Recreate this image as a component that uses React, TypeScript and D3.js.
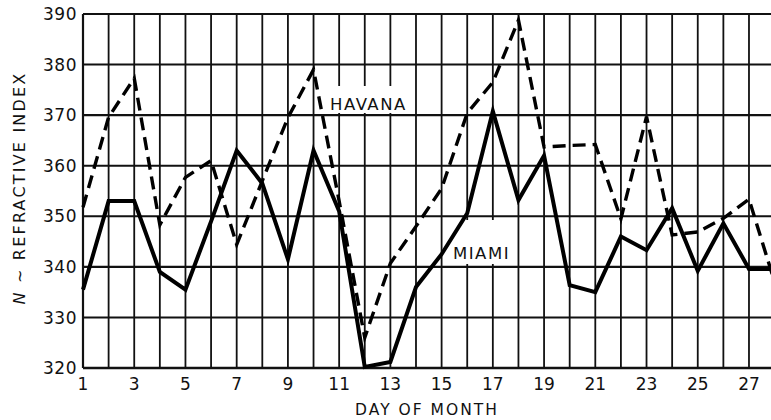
import React from "react";
import * as d3 from "d3";

const days = d3.range(1, 29);
const miami = [335.5, 353, 353, 339, 335.5, 349, 363, 356.5, 341.5, 363, 351, 320.2, 321.2, 336, 342.5, 350.6, 370.8, 353.2, 362, 336.4, 335, 346, 343.3, 351.6, 339.2, 348.6, 339.6, 339.6];
const havana = [351.8, 369.6, 377.3, 348.3, 357.7, 361, 344.4, 357, 369.5, 379, 353, 326, 340.7, 348, 355.5, 370.4, 376.5, 388.8, 363.7, 364, 364.2, 349.5, 369.7, 346.3, 346.9, 349.6, 353.4, 337];
const yTicks = [320, 330, 340, 350, 360, 370, 380, 390];
const xTickLabels = [1, 3, 5, 7, 9, 11, 13, 15, 17, 19, 21, 23, 25, 27];

const W = 771;
const H = 420;
const FONT = "'DejaVu Sans', sans-serif";

export default function App() {
  const x = d3.scaleLinear().domain([1, 28]).range([83, 774.6]);
  const y = d3.scaleLinear().domain([320, 390]).range([368, 14]);
  const line = d3
    .line<number>()
    .x((_, i) => x(days[i]))
    .y((d) => y(d));

  return (
    <svg width={W} height={H} style={{ position: "absolute", left: 0, top: 0, background: "#fff" }}>
      <rect x={0} y={0} width={W} height={H} fill="#fff" />
      {/* vertical grid */}
      {days.map((d) => (
        <line key={"v" + d} x1={x(d)} x2={x(d)} y1={y(390)} y2={y(320)} stroke="#111" strokeWidth={d === 1 ? 2.2 : 1.8} />
      ))}
      {/* horizontal grid */}
      {yTicks.map((t) => (
        <line key={"h" + t} x1={x(1)} x2={W} y1={y(t)} y2={y(t)} stroke="#111" strokeWidth={t === 320 ? 2.6 : 2.1} />
      ))}
      {/* label masks */}
      <rect x={322} y={86} width={88} height={27} fill="#fff" />
      <rect x={448} y={220} width={67} height={44} fill="#fff" />
      {/* series */}
      <path d={line(havana) || ""} fill="none" stroke="#000" strokeWidth={3.4} strokeDasharray="13,7" strokeLinejoin="miter" />
      <path d={line(miami) || ""} fill="none" stroke="#000" strokeWidth={4} strokeLinejoin="miter" />
      {/* series labels */}
      <text x={330} y={110} fontFamily={FONT} fontSize={16.5} letterSpacing={1.5} fill="#111">HAVANA</text>
      <text x={453} y={259} fontFamily={FONT} fontSize={16.5} letterSpacing={1.5} fill="#111">MIAMI</text>
      {/* y tick labels */}
      {yTicks.map((t) => (
        <text key={"yl" + t} x={77} y={y(t)} dy="0.36em" textAnchor="end" fontFamily={FONT} fontSize={17} letterSpacing={0.5} fill="#111">
          {t}
        </text>
      ))}
      {/* x tick labels */}
      {xTickLabels.map((d) => (
        <text key={"xl" + d} x={x(d)} y={390} textAnchor="middle" fontFamily={FONT} fontSize={17} fill="#111">
          {d}
        </text>
      ))}
      <text x={427} y={415} textAnchor="middle" fontFamily={FONT} fontSize={15.5} letterSpacing={2} fill="#111">
        DAY OF MONTH
      </text>
      <text
        transform={`translate(25,188) rotate(-90)`}
        textAnchor="middle"
        fontFamily={FONT}
        fontSize={16}
        letterSpacing={2.2}
        fill="#111"
      >
        <tspan fontStyle="italic">N</tspan>
        <tspan> ~ REFRACTIVE INDEX</tspan>
      </text>
    </svg>
  );
}
